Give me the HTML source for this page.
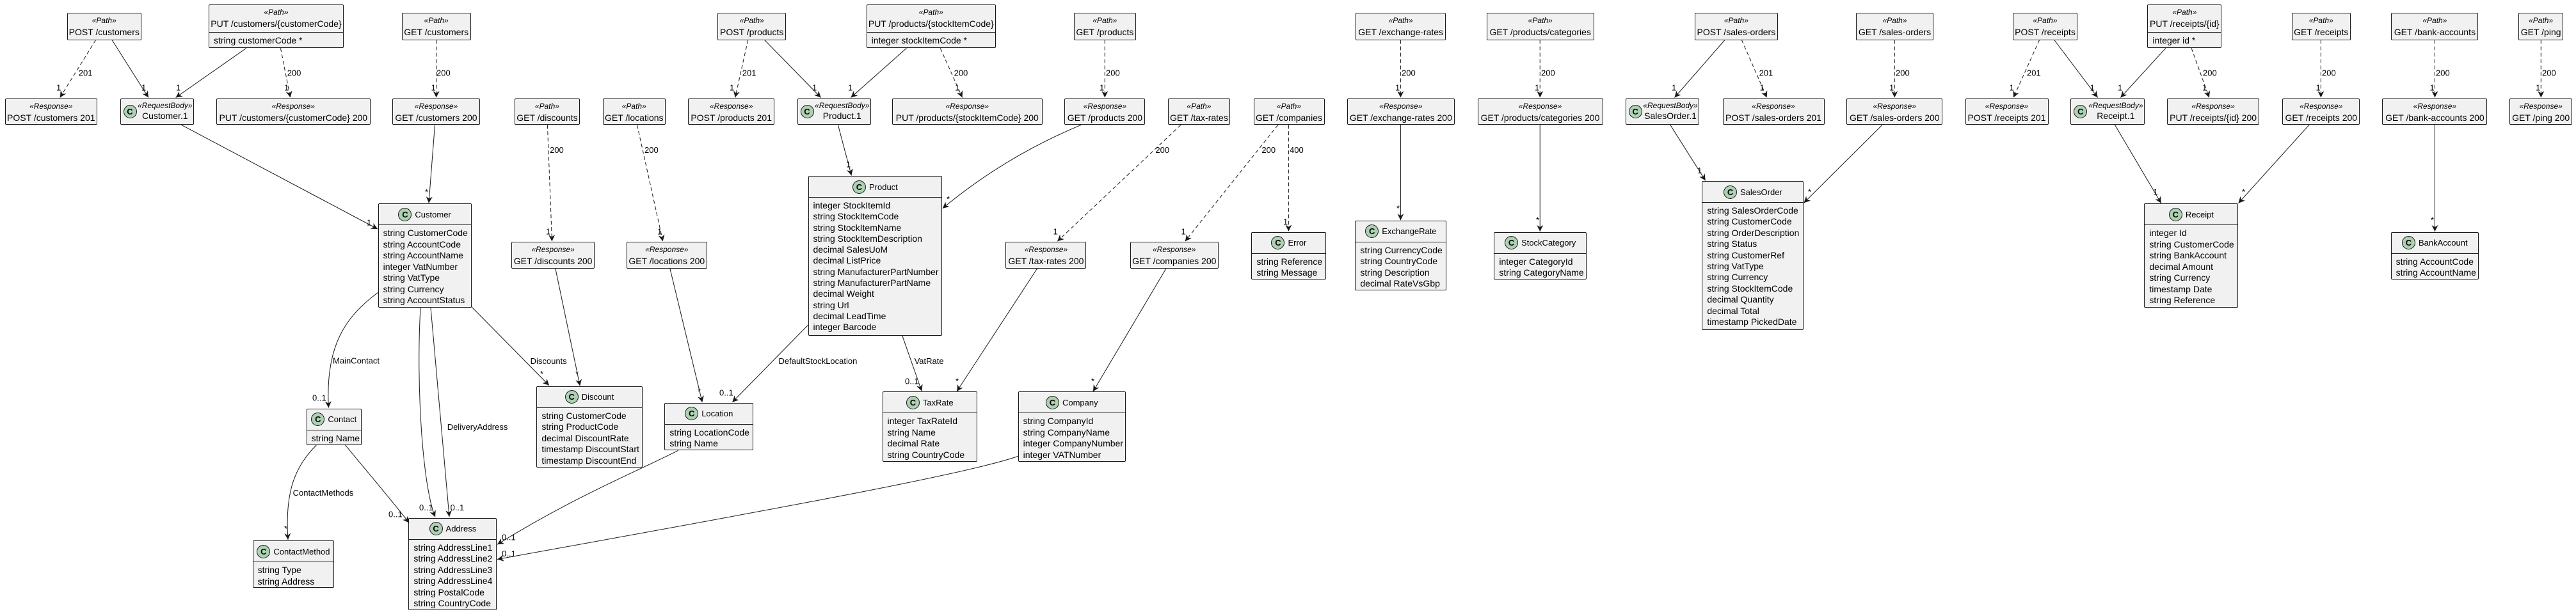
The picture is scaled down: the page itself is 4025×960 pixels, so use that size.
<!DOCTYPE html>
<html><head><meta charset="utf-8"><style>
html,body{margin:0;padding:0;background:#fff;}
#c{position:relative;width:4025px;height:960px;overflow:hidden;background:#fff;}
.b{position:absolute;box-sizing:border-box;background:#F1F1F1;border:1px solid #181818;border-radius:2px;font:14px "Liberation Sans",sans-serif;color:#000;white-space:nowrap;}
.p{text-align:center;}
.st{font-style:italic;font-size:12px;line-height:15px;padding-top:4px;}
.nm{line-height:20px;}
.ph{height:42px;}
.fd{border-top:1px solid #181818;padding:3px 7px;line-height:18px;text-align:left;}
.r{display:flex;align-items:center;}
.r .tx{flex:1;text-align:center;}
.r .st{padding-top:0;}
.r .nm{line-height:17px;}
.ci{width:21px;height:21px;border-radius:50%;background:#ADD1B2;border:1px solid #181818;box-sizing:border-box;font:bold 13px "Liberation Sans",sans-serif;line-height:19px;text-align:center;flex:none;}
.r .ci{margin-left:4px;}
.hd{height:32px;display:flex;align-items:center;justify-content:center;border-bottom:1px solid #181818;font-size:13px;}
.hd .ci{margin-right:5px;}
.bd{padding:4px 7px;line-height:17.5px;}
svg{position:absolute;left:0;top:0;}
svg text{font:13px "Liberation Sans",sans-serif;fill:#000;}
</style></head><body><div id="c">

<div class="b p" style="left:104.5px;top:19.6px;width:116.5px;height:43px"><div class="st">«Path»</div><div class="nm">POST /customers</div></div>
<div class="b p" style="left:326px;top:7.3px;width:211px;height:68px"><div class="ph"><div class="st">«Path»</div><div class="nm">PUT /customers/{customerCode}</div></div><div class="fd">string customerCode *</div></div>
<div class="b p" style="left:627.7px;top:19.6px;width:108px;height:43px"><div class="st">«Path»</div><div class="nm">GET /customers</div></div>
<div class="b p" style="left:1121.4px;top:19.6px;width:106.6px;height:43px"><div class="st">«Path»</div><div class="nm">POST /products</div></div>
<div class="b p" style="left:1353.6px;top:7.3px;width:202.4px;height:68px"><div class="ph"><div class="st">«Path»</div><div class="nm">PUT /products/{stockItemCode}</div></div><div class="fd">integer stockItemCode *</div></div>
<div class="b p" style="left:1677.7px;top:19.6px;width:97.3px;height:43px"><div class="st">«Path»</div><div class="nm">GET /products</div></div>
<div class="b p" style="left:2118.3px;top:19.6px;width:140.7px;height:43px"><div class="st">«Path»</div><div class="nm">GET /exchange-rates</div></div>
<div class="b p" style="left:2322.8px;top:19.6px;width:167.8px;height:43px"><div class="st">«Path»</div><div class="nm">GET /products/categories</div></div>
<div class="b p" style="left:2647.8px;top:19.6px;width:130.2px;height:43px"><div class="st">«Path»</div><div class="nm">POST /sales-orders</div></div>
<div class="b p" style="left:2899.6px;top:19.6px;width:121.8px;height:43px"><div class="st">«Path»</div><div class="nm">GET /sales-orders</div></div>
<div class="b p" style="left:3144.6px;top:19.6px;width:101.8px;height:43px"><div class="st">«Path»</div><div class="nm">POST /receipts</div></div>
<div class="b p" style="left:3355.4px;top:7.3px;width:116px;height:68px"><div class="ph"><div class="st">«Path»</div><div class="nm">PUT /receipts/{id}</div></div><div class="fd">integer id *</div></div>
<div class="b p" style="left:3580.5px;top:19.6px;width:92.5px;height:43px"><div class="st">«Path»</div><div class="nm">GET /receipts</div></div>
<div class="b p" style="left:3736.4px;top:19.6px;width:136px;height:43px"><div class="st">«Path»</div><div class="nm">GET /bank-accounts</div></div>
<div class="b p" style="left:3935.3px;top:19.6px;width:69.7px;height:43px"><div class="st">«Path»</div><div class="nm">GET /ping</div></div>
<div class="b p" style="left:803.6px;top:153.7px;width:102.7px;height:41.6px"><div class="st">«Path»</div><div class="nm">GET /discounts</div></div>
<div class="b p" style="left:941.5px;top:153.7px;width:98.5px;height:41.6px"><div class="st">«Path»</div><div class="nm">GET /locations</div></div>
<div class="b p" style="left:1824.6px;top:153.7px;width:97.7px;height:41.6px"><div class="st">«Path»</div><div class="nm">GET /tax-rates</div></div>
<div class="b p" style="left:1958.5px;top:153.7px;width:111px;height:41.6px"><div class="st">«Path»</div><div class="nm">GET /companies</div></div>

<div class="b p" style="left:7.6px;top:153.7px;width:144.4px;height:41.6px"><div class="st">«Response»</div><div class="nm">POST /customers 201</div></div>
<div class="b p" style="left:338px;top:153.7px;width:240.6px;height:41.6px"><div class="st">«Response»</div><div class="nm">PUT /customers/{customerCode} 200</div></div>
<div class="b p" style="left:613.4px;top:153.7px;width:136.2px;height:41.6px"><div class="st">«Response»</div><div class="nm">GET /customers 200</div></div>
<div class="b p" style="left:1075.4px;top:153.7px;width:134.6px;height:41.6px"><div class="st">«Response»</div><div class="nm">POST /products 201</div></div>
<div class="b p" style="left:1394px;top:153.7px;width:234.6px;height:41.6px"><div class="st">«Response»</div><div class="nm">PUT /products/{stockItemCode} 200</div></div>
<div class="b p" style="left:1663.4px;top:153.7px;width:126px;height:41.6px"><div class="st">«Response»</div><div class="nm">GET /products 200</div></div>
<div class="b p" style="left:2104.5px;top:153.7px;width:168.7px;height:41.6px"><div class="st">«Response»</div><div class="nm">GET /exchange-rates 200</div></div>
<div class="b p" style="left:2308.5px;top:153.7px;width:196px;height:41.6px"><div class="st">«Response»</div><div class="nm">GET /products/categories 200</div></div>
<div class="b p" style="left:2691.5px;top:153.7px;width:159px;height:41.6px"><div class="st">«Response»</div><div class="nm">POST /sales-orders 201</div></div>
<div class="b p" style="left:2885.3px;top:153.7px;width:150px;height:41.6px"><div class="st">«Response»</div><div class="nm">GET /sales-orders 200</div></div>
<div class="b p" style="left:3070.5px;top:153.7px;width:130px;height:41.6px"><div class="st">«Response»</div><div class="nm">POST /receipts 201</div></div>
<div class="b p" style="left:3386.2px;top:153.7px;width:143.8px;height:41.6px"><div class="st">«Response»</div><div class="nm">PUT /receipts/{id} 200</div></div>
<div class="b p" style="left:3566.2px;top:153.7px;width:121.2px;height:41.6px"><div class="st">«Response»</div><div class="nm">GET /receipts 200</div></div>
<div class="b p" style="left:3722.4px;top:153.7px;width:164px;height:41.6px"><div class="st">«Response»</div><div class="nm">GET /bank-accounts 200</div></div>
<div class="b p" style="left:3921.3px;top:153.7px;width:97.7px;height:41.6px"><div class="st">«Response»</div><div class="nm">GET /ping 200</div></div>
<div class="b p" style="left:798.7px;top:378.4px;width:130.8px;height:41.6px"><div class="st">«Response»</div><div class="nm">GET /discounts 200</div></div>
<div class="b p" style="left:978.6px;top:378.4px;width:126.4px;height:41.6px"><div class="st">«Response»</div><div class="nm">GET /locations 200</div></div>
<div class="b p" style="left:1571.4px;top:378.4px;width:126px;height:41.6px"><div class="st">«Response»</div><div class="nm">GET /tax-rates 200</div></div>
<div class="b p" style="left:1765.6px;top:378.4px;width:138.4px;height:41.6px"><div class="st">«Response»</div><div class="nm">GET /companies 200</div></div>

<div class="b r" style="left:187.5px;top:153.7px;width:115.5px;height:41.6px"><div class="ci">C</div><div class="tx"><div class="st">«RequestBody»</div><div class="nm">Customer.1</div></div></div>
<div class="b r" style="left:1245.5px;top:153.7px;width:115.5px;height:41.6px"><div class="ci">C</div><div class="tx"><div class="st">«RequestBody»</div><div class="nm">Product.1</div></div></div>
<div class="b r" style="left:2539.7px;top:153.7px;width:115.7px;height:41.6px"><div class="ci">C</div><div class="tx"><div class="st">«RequestBody»</div><div class="nm">SalesOrder.1</div></div></div>
<div class="b r" style="left:3235.3px;top:153.7px;width:116px;height:41.6px"><div class="ci">C</div><div class="tx"><div class="st">«RequestBody»</div><div class="nm">Receipt.1</div></div></div>

<div class="b" style="left:590.6px;top:318.4px;width:146px;height:163px"><div class="hd"><div class="ci">C</div>Customer</div><div class="bd">string CustomerCode<br>string AccountCode<br>string AccountName<br>integer VatNumber<br>string VatType<br>string Currency<br>string AccountStatus</div></div>
<div class="b" style="left:478.6px;top:638.7px;width:86.4px;height:57px"><div class="hd"><div class="ci">C</div>Contact</div><div class="bd">string Name</div></div>
<div class="b" style="left:394.6px;top:845px;width:127.7px;height:74px"><div class="hd"><div class="ci">C</div>ContactMethod</div><div class="bd">string Type<br>string Address</div></div>
<div class="b" style="left:638.4px;top:809.5px;width:138px;height:144.5px"><div class="hd"><div class="ci">C</div>Address</div><div class="bd">string AddressLine1<br>string AddressLine2<br>string AddressLine3<br>string AddressLine4<br>string PostalCode<br>string CountryCode</div></div>
<div class="b" style="left:838.4px;top:603.8px;width:165.2px;height:127.4px"><div class="hd"><div class="ci">C</div>Discount</div><div class="bd">string CustomerCode<br>string ProductCode<br>decimal DiscountRate<br>timestamp DiscountStart<br>timestamp DiscountEnd</div></div>
<div class="b" style="left:1038.4px;top:629.5px;width:138.8px;height:74.7px"><div class="hd"><div class="ci">C</div>Location</div><div class="bd">string LocationCode<br>string Name</div></div>
<div class="b" style="left:1262.5px;top:275px;width:209.8px;height:249.8px"><div class="hd"><div class="ci">C</div>Product</div><div class="bd" style="line-height:17.3px">integer StockItemId<br>string StockItemCode<br>string StockItemName<br>string StockItemDescription<br>decimal SalesUoM<br>decimal ListPrice<br>string ManufacturerPartNumber<br>string ManufacturerPartName<br>decimal Weight<br>string Url<br>decimal LeadTime<br>integer Barcode</div></div>
<div class="b" style="left:1378.5px;top:612.4px;width:148.5px;height:109.6px"><div class="hd"><div class="ci">C</div>TaxRate</div><div class="bd">integer TaxRateId<br>string Name<br>decimal Rate<br>string CountryCode</div></div>
<div class="b" style="left:1590.6px;top:612.4px;width:168.4px;height:109.6px"><div class="hd"><div class="ci">C</div>Company</div><div class="bd">string CompanyId<br>string CompanyName<br>integer CompanyNumber<br>integer VATNumber</div></div>
<div class="b" style="left:1955.4px;top:362.5px;width:117px;height:74.7px"><div class="hd"><div class="ci">C</div>Error</div><div class="bd">string Reference<br>string Message</div></div>
<div class="b" style="left:2117.4px;top:344.8px;width:143px;height:109.6px"><div class="hd"><div class="ci">C</div>ExchangeRate</div><div class="bd">string CurrencyCode<br>string CountryCode<br>string Description<br>decimal RateVsGbp</div></div>
<div class="b" style="left:2334.4px;top:362.5px;width:144.6px;height:74.7px"><div class="hd"><div class="ci">C</div>StockCategory</div><div class="bd">integer CategoryId<br>string CategoryName</div></div>
<div class="b" style="left:2659.4px;top:283px;width:159px;height:233.2px"><div class="hd"><div class="ci">C</div>SalesOrder</div><div class="bd" style="line-height:17.4px">string SalesOrderCode<br>string CustomerCode<br>string OrderDescription<br>string Status<br>string CustomerRef<br>string VatType<br>string Currency<br>string StockItemCode<br>decimal Quantity<br>decimal Total<br>timestamp PickedDate</div></div>
<div class="b" style="left:3350.4px;top:318.4px;width:147px;height:163px"><div class="hd"><div class="ci">C</div>Receipt</div><div class="bd">integer Id<br>string CustomerCode<br>string BankAccount<br>decimal Amount<br>string Currency<br>timestamp Date<br>string Reference</div></div>
<div class="b" style="left:3735.6px;top:362.5px;width:137.4px;height:74.7px"><div class="hd"><div class="ci">C</div>BankAccount</div><div class="bd">string AccountCode<br>string AccountName</div></div>

<svg width="4025" height="960" viewBox="0 0 4025 960">
<defs><marker id="a" markerUnits="userSpaceOnUse" markerWidth="12" markerHeight="12" refX="10" refY="5" orient="auto"><path d="M0,0 L10,5 L0,10 L3,5 Z" fill="#181818"/></marker></defs>
<g fill="none" stroke="#181818" stroke-width="1" marker-end="url(#a)">
<path d="M149.6,62.5 L93.75,152.5" stroke-dasharray="6,4"/>
<path d="M175,62.5 L232,152.5"/>
<path d="M384.8,75.3 L274.6,152.5"/>
<path d="M438.4,75.3 L453.6,152.5" stroke-dasharray="6,4"/>
<path d="M681.7,62.5 L681.7,152.5" stroke-dasharray="6,4"/>
<path d="M679.5,195.3 L670,317.5"/>
<path d="M283.5,195.3 L590,358"/>
<path d="M590.6,457.4 C540,495 508,540 513.4,637.5"/>
<path d="M657,481.3 C650,600 660,760 680,808.3"/>
<path d="M673,481.3 L702,808"/>
<path d="M494.6,695.6 C460,730 445,770 450,843.8"/>
<path d="M539.3,695.6 C580,745 610,780 639.3,817.5"/>
<path d="M736.6,479.5 L858,602.6"/>
<path d="M855.4,195.3 L862.5,377.2" stroke-dasharray="6,4"/>
<path d="M867.9,420 L906.2,603.3"/>
<path d="M995.5,195.3 L1035.7,377.2" stroke-dasharray="6,4"/>
<path d="M1046.9,420 L1097.3,629"/>
<path d="M1168.75,62.5 L1148.7,152.5" stroke-dasharray="6,4"/>
<path d="M1194.6,62.5 L1282.6,152.5"/>
<path d="M1416.5,75.3 L1329.5,152.5"/>
<path d="M1469.2,75.3 L1503.6,152.5" stroke-dasharray="6,4"/>
<path d="M1309.4,195.3 L1330.4,274.5"/>
<path d="M1262.5,508.3 L1144.2,628.9"/>
<path d="M1059.8,704.2 C1000,735 900,775 777,851.2"/>
<path d="M1590.6,713.4 C1520,738 1300,780 777,874.5"/>
<path d="M1409.8,524.8 L1440.2,611.5"/>
<path d="M1726.3,62.5 L1726.3,152.5" stroke-dasharray="6,4"/>
<path d="M1689.3,195.3 Q1570,245 1472.8,325.8"/>
<path d="M1845,195.3 L1652.2,377.2" stroke-dasharray="6,4"/>
<path d="M1620.5,420 L1495,612"/>
<path d="M1996.9,195.3 L1851.8,377.2" stroke-dasharray="6,4"/>
<path d="M2013.4,195.3 L2013.4,361.5" stroke-dasharray="6,4"/>
<path d="M1821.9,420 L1708,612"/>
<path d="M2188.4,62.5 L2188.4,152.5" stroke-dasharray="6,4"/>
<path d="M2188.4,195.3 L2188.4,344.3"/>
<path d="M2406.25,62.5 L2406.25,152.5" stroke-dasharray="6,4"/>
<path d="M2406.25,195.3 L2406.25,362"/>
<path d="M2695,62.5 L2616.5,152.5"/>
<path d="M2721.4,62.5 L2760.7,152.5" stroke-dasharray="6,4"/>
<path d="M2609.8,195.3 L2664.7,282.3"/>
<path d="M2960.3,62.5 L2960.3,152.5" stroke-dasharray="6,4"/>
<path d="M2941,195.3 L2818.5,317.2"/>
<path d="M3186.6,62.5 L3146,152.5" stroke-dasharray="6,4"/>
<path d="M3209.8,62.5 L3277.7,152.5"/>
<path d="M3383.9,75.3 L3313.4,152.5"/>
<path d="M3424.1,75.3 L3451.8,152.5" stroke-dasharray="6,4"/>
<path d="M3304.5,195.3 L3376.8,317.7"/>
<path d="M3626.4,62.5 L3626.4,152.5" stroke-dasharray="6,4"/>
<path d="M3608,195.3 L3497.5,317.7"/>
<path d="M3804.5,62.5 L3804.5,152.5" stroke-dasharray="6,4"/>
<path d="M3804.5,195.3 L3804.5,362"/>
<path d="M3970.3,62.5 L3970.3,152.5" stroke-dasharray="6,4"/>
</g>
<g>
<text x="122.8" y="118.4">201</text><text x="88" y="141.5">1</text><text x="221" y="141.5">1</text><text x="275" y="141.5">1</text>
<text x="448.7" y="118.4">200</text><text x="444" y="141.5">1</text>
<text x="682" y="118.4">200</text><text x="673.5" y="141.5">1</text>
<text x="664" y="305">*</text><text x="573" y="352.5">1</text>
<text x="520" y="568.5">MainContact</text><text x="488" y="626.5">0..1</text>
<text x="655" y="798">0..1</text><text x="698.7" y="672">DeliveryAddress</text><text x="703.6" y="798">0..1</text>
<text x="457.6" y="775">ContactMethods</text><text x="444" y="831">*</text><text x="607" y="808.5">0..1</text>
<text x="828.6" y="569">Discounts</text><text x="844" y="589">*</text>
<text x="859" y="239">200</text><text x="853" y="366.5">1</text><text x="899" y="589">*</text>
<text x="1007" y="239">200</text><text x="1027" y="366.5">1</text><text x="1090" y="616.5">*</text>
<text x="1159.8" y="118.4">201</text><text x="1140" y="141.5">1</text><text x="1269" y="141.5">1</text><text x="1325" y="141.5">1</text>
<text x="1490.6" y="118.4">200</text><text x="1492" y="141.5">1</text><text x="1322" y="261.5">1</text>
<text x="1216.5" y="569">DefaultStockLocation</text><text x="1124" y="618.5">0..1</text>
<text x="784" y="844.5">0..1</text><text x="784" y="869.8">0..1</text>
<text x="1428.6" y="569">VatRate</text><text x="1414" y="600.3">0..1</text>
<text x="1728" y="118.4">200</text><text x="1718" y="141.5">1</text><text x="1479" y="315.5">*</text>
<text x="1805.4" y="239">200</text><text x="1645.5" y="366.5">1</text><text x="1493" y="600.3">*</text>
<text x="1971.4" y="239">200</text><text x="1845.5" y="366.5">1</text>
<text x="2015" y="239">400</text><text x="2005" y="351">1</text><text x="1705" y="600.3">*</text>
<text x="2190" y="118.4">200</text><text x="2180" y="141.5">1</text><text x="2182" y="330">*</text>
<text x="2408" y="118.4">200</text><text x="2398" y="141.5">1</text><text x="2400" y="348.5">*</text>
<text x="2612" y="141.5">1</text><text x="2748.6" y="118.4">201</text><text x="2749.5" y="141.5">1</text><text x="2652" y="271">1</text>
<text x="2962" y="118.4">200</text><text x="2952" y="141.5">1</text><text x="2825" y="304.5">*</text>
<text x="3167" y="118.4">201</text><text x="3139.5" y="141.5">1</text><text x="3265.5" y="141.5">1</text><text x="3309" y="141.5">1</text>
<text x="3442" y="118.4">200</text><text x="3441" y="141.5">1</text><text x="3364.5" y="304.5">1</text>
<text x="3628" y="118.4">200</text><text x="3618.5" y="141.5">1</text><text x="3503" y="304.5">*</text>
<text x="3806" y="118.4">200</text><text x="3796.5" y="141.5">1</text><text x="3798" y="348.5">*</text>
<text x="3972" y="118.4">200</text><text x="3962" y="141.5">1</text>
</g>
</svg>
</div></body></html>
